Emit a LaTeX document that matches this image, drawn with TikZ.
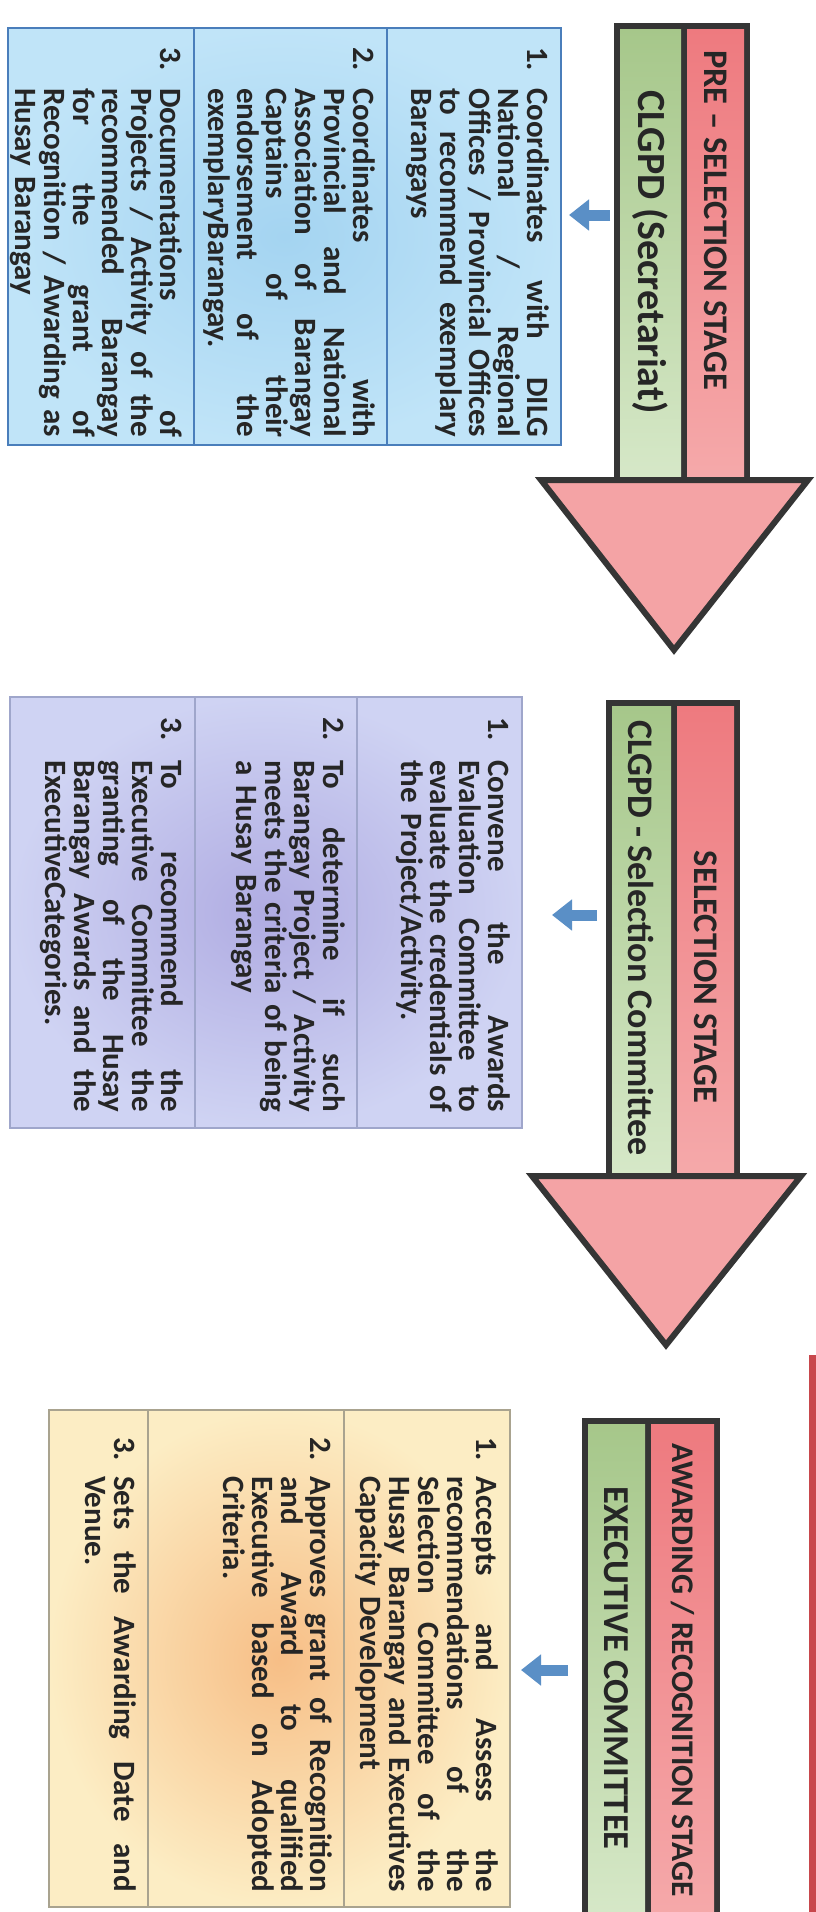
\documentclass[tikz,border=0pt]{standalone}
\usepackage{fontspec}
\setmainfont{Carlito}
\usetikzlibrary{arrows.meta}
\definecolor{shaftdark}{HTML}{353535}
\definecolor{redtop}{HTML}{EE7A7F}
\definecolor{redbot}{HTML}{F5A9AA}
\definecolor{greentop}{HTML}{A6C78A}
\definecolor{greenbot}{HTML}{D6E8C8}
\definecolor{headpink}{HTML}{F4A3A5}
\definecolor{blueIn}{HTML}{A4D4F1}
\definecolor{blueOut}{HTML}{C0E4F8}
\definecolor{blueBord}{HTML}{4A7EBB}
\definecolor{purIn}{HTML}{B0ACE2}
\definecolor{purOut}{HTML}{CFD3F3}
\definecolor{purBord}{HTML}{9FA6CB}
\definecolor{orIn}{HTML}{F7BE86}
\definecolor{orOut}{HTML}{FCEDC4}
\definecolor{orBord}{HTML}{A9A38F}
\definecolor{ptrblue}{HTML}{5A8FC6}
\definecolor{labtxt}{HTML}{262626}
\definecolor{bodytxt}{HTML}{262626}
\definecolor{edgered}{HTML}{C8474C}
\newlength\hangw
\newlength\bodyw
\newlength\itemw
\newcommand\numl[2]{\makebox[\hangw][l]{#1}\makebox[\bodyw][s]{\spaceskip=0pt\xspaceskip=0pt #2}\\}
\newcommand\jl[1]{\hspace*{\hangw}\makebox[\bodyw][s]{\spaceskip=0pt\xspaceskip=0pt #1}\\}
\newcommand\lastl[1]{\hspace*{\hangw}#1}
\newcommand\setitemw[2]{\setlength\hangw{#1}\setlength\bodyw{#2}\setlength\itemw{\dimexpr#1+#2+4pt\relax}}
\tikzset{
  lab/.style={rotate=-90, font={\fontsize{#1}{#1}\selectfont\bfseries}, text=labtxt, inner sep=0pt},
  arrowhead/.style={fill=headpink, draw=shaftdark, line width=6pt, line join=miter},
  itemtext/.style={rotate=-90, anchor=north west, inner sep=0pt, text width=\itemw, align=left,
     font={\fontsize{31}{29}\selectfont\bfseries\lineskiplimit=-50pt}, text=bodytxt},
  pointer/.style={draw=ptrblue, line width=11pt, -{Triangle[length=20pt,width=30pt]}},
  bluebox/.style={draw=blueBord, line width=1.5pt},
  purbox/.style={draw=purBord, line width=1.5pt},
  orbox/.style={draw=orBord, line width=1.5pt},
}
\begin{document}
\begin{tikzpicture}[x=1pt,y=-1pt]
\useasboundingbox (0,0) rectangle (816,1912);
\fill[white] (0,0) rectangle (816,1912);
\fill[edgered] (809,1355) rectangle (816,1912);

% ---------- Section 1 ----------
\fill[shaftdark] (614,23) rectangle (750,480);
\shade[top color=greentop, bottom color=greenbot] (620,29) rectangle (681,480);
\shade[top color=redtop, bottom color=redbot] (687,29) rectangle (744,480);
\draw[arrowhead] (541,480) -- (808,480) -- (674,650) -- cycle;
\node[lab=34.5] (s1red) at (715.5,220) {PRE – SELECTION STAGE};
\node[lab=40] (s1green) at (650,252) {CLGPD (Secretariat)};

\shade[inner color=blueIn, outer color=blueOut] (8,28) rectangle (561,445);
\draw[bluebox] (8,28) rectangle (561,445);
\draw[bluebox] (387,28) -- (387,445);
\draw[bluebox] (194,28) -- (194,445);
\coordinate (p1s) at (610,215);
\coordinate (p1e) at (569,215);
\draw[pointer] (p1s) -- (p1e);

\setitemw{41pt}{349pt}
\node[itemtext] (s1i1) at (549,47) {\numl{1.}{Coordinates with DILG}\jl{National / Regional}\jl{Offices / Provincial Offices}\jl{to recommend exemplary}\lastl{Barangays}};
\node[itemtext] (s1i2) at (375,47) {\numl{2.}{Coordinates with}\jl{Provincial and National}\jl{Association of Barangay}\jl{Captains of their}\jl{endorsement of the}\lastl{exemplaryBarangay.}};
\node[itemtext] (s1i3) at (182,47) {\numl{3.}{Documentations of}\jl{Projects / Activity of the}\jl{recommended Barangay}\jl{for the grant of}\jl{Recognition / Awarding as}\lastl{Husay Barangay}};

% ---------- Section 2 ----------
\fill[shaftdark] (606,700) rectangle (740,1176);
\shade[top color=greentop, bottom color=greenbot] (612,706) rectangle (671,1176);
\shade[top color=redtop, bottom color=redbot] (677,706) rectangle (734,1176);
\draw[arrowhead] (532,1176) -- (801,1176) -- (666,1345) -- cycle;
\node[lab=34.5] (s2red) at (705.5,977) {SELECTION STAGE};
\node[lab=36] (s2green) at (641.5,938) {CLGPD - Selection Committee};

\shade[inner color=purIn, outer color=purOut] (10,697) rectangle (522,1128);
\draw[purbox] (10,697) rectangle (522,1128);
\draw[purbox] (357,697) -- (357,1128);
\draw[purbox] (195,697) -- (195,1128);
\coordinate (p2s) at (597,915);
\coordinate (p2e) at (552,915);
\draw[pointer] (p2s) -- (p2e);

\setitemw{43pt}{352pt}
\node[itemtext] (s2i1) at (510,717) {\numl{1.}{Convene the Awards}\jl{Evaluation Committee to}\jl{evaluate the credentials of}\lastl{the Project/Activity.}};
\node[itemtext] (s2i2) at (345,717) {\numl{2.}{To determine if such}\jl{Barangay Project / Activity}\jl{meets the criteria of being}\lastl{a Husay Barangay}};
\node[itemtext] (s2i3) at (183,717) {\numl{3.}{To recommend the}\jl{Executive Committee the}\jl{granting of the Husay}\jl{Barangay Awards and the}\lastl{ExecutiveCategories.}};

% ---------- Section 3 ----------
\fill[shaftdark] (582,1418) rectangle (720,1920);
\shade[top color=greentop, bottom color=greenbot] (588,1424) rectangle (645,1920);
\shade[top color=redtop, bottom color=redbot] (651,1424) rectangle (714,1920);
\node[lab=31.5] (s3red) at (682.5,1670) {AWARDING / RECOGNITION STAGE};
\node[lab=36.5] (s3green) at (616.5,1668) {EXECUTIVE COMMITTEE};

\shade[inner color=orIn, outer color=orOut] (49,1410) rectangle (510,1907);
\draw[orbox] (49,1410) rectangle (510,1907);
\draw[orbox] (344,1410) -- (344,1907);
\draw[orbox] (148,1410) -- (148,1907);
\coordinate (p3s) at (568,1670);
\coordinate (p3e) at (521,1670);
\draw[pointer] (p3s) -- (p3e);

\setitemw{39pt}{416pt}
\node[itemtext] (s3i1) at (498,1437) {\numl{1.}{Accepts and Assess the}\jl{recommendations of the}\jl{Selection Committee of the}\jl{Husay Barangay and Executives}\lastl{Capacity Development}};
\node[itemtext] (s3i2) at (332,1437) {\numl{2.}{Approves grant of Recognition}\jl{and Award to qualified}\jl{Executive based on Adopted}\lastl{Criteria.}};
\node[itemtext] (s3i3) at (136,1437) {\numl{3.}{Sets the Awarding Date and}\lastl{Venue.}};
\end{tikzpicture}
\end{document}
